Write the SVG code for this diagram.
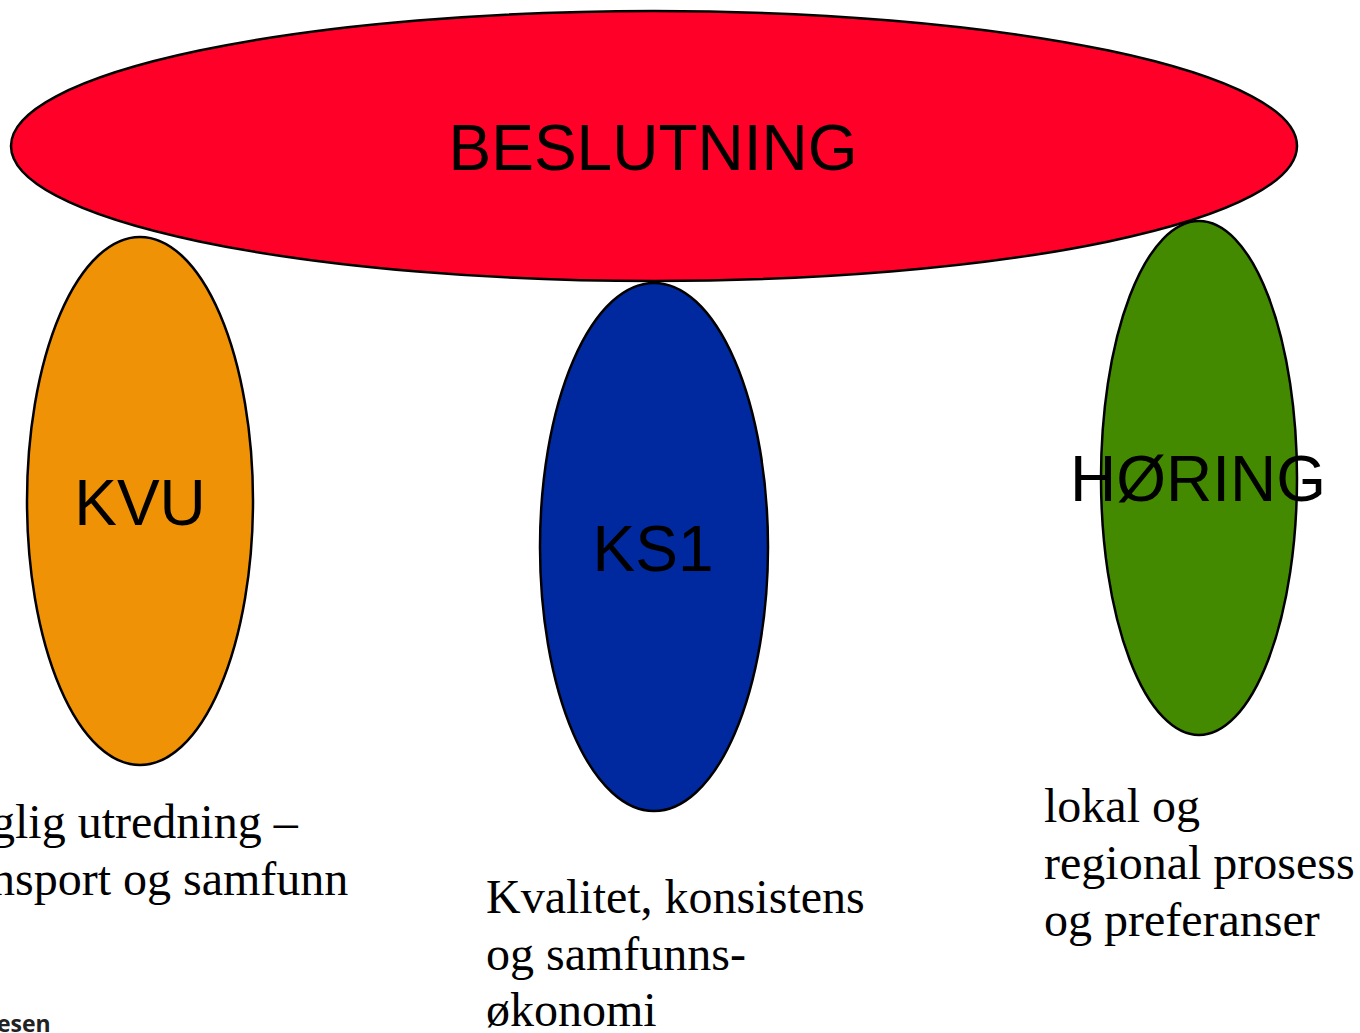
<svg xmlns="http://www.w3.org/2000/svg" width="1360" height="1033" viewBox="0 0 1360 1033">
<style>
.node{stroke:#000;stroke-width:2.5}
.lbl{font-family:"Liberation Sans",Arial,sans-serif;font-size:64px;fill:#000;text-anchor:middle}
.desc{font-family:"Liberation Serif","Times New Roman",serif;font-size:48px;fill:#000}
</style>
<rect width="1360" height="1033" fill="#fff"/>
<g id="connectors"></g>
<g id="kvu">
<ellipse class="node" cx="140" cy="501" rx="113" ry="264" fill="#F09205"/>
<text class="lbl" x="140" y="525">KVU</text>
</g>
<g id="ks1">
<ellipse class="node" cx="654" cy="547" rx="114" ry="264" fill="#0029A0"/>
<text class="lbl" x="653" y="571">KS1</text>
</g>
<g id="horing">
<ellipse class="node" cx="1199" cy="478" rx="98" ry="257" fill="#448A00"/>
<text class="lbl" x="1198" y="501">HØRING</text>
</g>
<g id="beslutning">
<ellipse class="node" cx="654" cy="146" rx="643" ry="135" fill="#FF0028"/>
<text class="lbl" x="653" y="170">BESLUTNING</text>
</g>
<g id="kvu-text">
<text class="desc" x="-9" y="838">glig utredning –</text>
<text class="desc" x="-9" y="895">nsport og samfunn</text>
</g>
<g id="ks1-text">
<text class="desc" x="486" y="913">Kvalitet, konsistens</text>
<text class="desc" x="486" y="970">og samfunns-</text>
<text class="desc" x="486" y="1026">økonomi</text>
</g>
<g id="horing-text">
<text class="desc" x="1044" y="822">lokal og</text>
<text class="desc" x="1044" y="879">regional prosess</text>
<text class="desc" x="1044" y="936">og preferanser</text>
</g>
<g id="logo">
<text x="-3" y="1032" font-family="'Open Sans','DejaVu Sans',sans-serif" font-weight="bold" font-size="23" fill="#222">esen</text>
</g>
</svg>
